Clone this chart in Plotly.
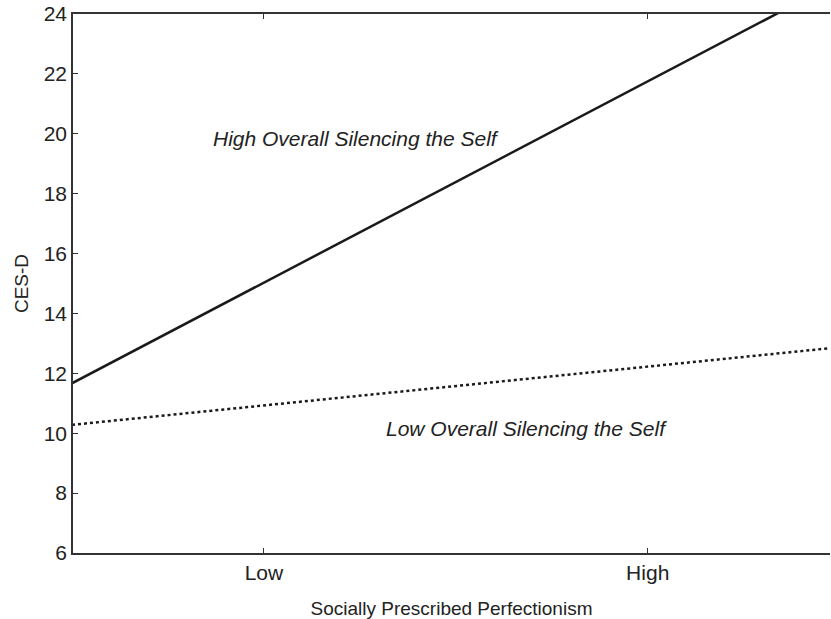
import plotly.graph_objects as go

# Data
x_vals = [-2.0, -1.0, 1.0, 1.95]          # standardized Socially Prescribed Perfectionism
high_sts = [11.67, 15.03, 21.75, 24.94]   # High Overall Silencing the Self
low_sts = [10.28, 10.93, 12.23, 12.84]    # Low Overall Silencing the Self
x_tickvals = [-1, 1]
x_ticktext = ["Low", "High"]
y_tickvals = [6, 8, 10, 12, 14, 16, 18, 20, 22, 24]

font_family = "Liberation Sans, Arial, sans-serif"

fig = go.Figure()
fig.add_trace(go.Scatter(x=x_vals, y=high_sts, mode="lines",
                         line=dict(color="#1a1a1a", width=2.5), showlegend=False,
                         hoverinfo="skip"))
fig.add_trace(go.Scatter(x=x_vals, y=low_sts, mode="lines",
                         line=dict(color="#1a1a1a", width=2.5, dash="dot"), showlegend=False,
                         hoverinfo="skip"))

fig.add_annotation(x=-0.52, y=19.85, text="<i>High Overall Silencing the Self</i>",
                   showarrow=False, font=dict(family=font_family, size=21, color="#222"),
                   xref="x", yref="y")
fig.add_annotation(x=0.37, y=10.17, text="<i>Low Overall Silencing the Self</i>",
                   showarrow=False, font=dict(family=font_family, size=21, color="#222"),
                   xref="x", yref="y")

fig.update_layout(
    width=831, height=619,
    margin=dict(l=73, r=1, t=14, b=66),
    paper_bgcolor="white", plot_bgcolor="white",
    font=dict(family=font_family, size=21, color="#222"),
    xaxis=dict(range=[-1.995, 1.95], tickvals=x_tickvals, ticktext=x_ticktext,
               showgrid=False, zeroline=False, showline=True, linecolor="#333",
               linewidth=1.5, mirror="ticks", ticks="inside", ticklen=5,
               tickcolor="#333", tickwidth=1, tickfont=dict(size=21),
               title=dict(text="Socially Prescribed Perfectionism", standoff=19,
                          font=dict(size=19))),
    yaxis=dict(range=[6, 24], tickvals=y_tickvals, showgrid=False, zeroline=False,
               showline=True, linecolor="#333", linewidth=1.5, ticks="inside",
               ticklen=5, tickcolor="#333", tickwidth=1, tickfont=dict(size=21),
               ticklabeloverflow="allow",
               title=dict(text="CES-D", standoff=10, font=dict(size=19))),
)

fig.write_html("out.html", config={"displayModeBar": False},
               post_script="document.body.style.margin='0';document.body.style.overflow='hidden';")
